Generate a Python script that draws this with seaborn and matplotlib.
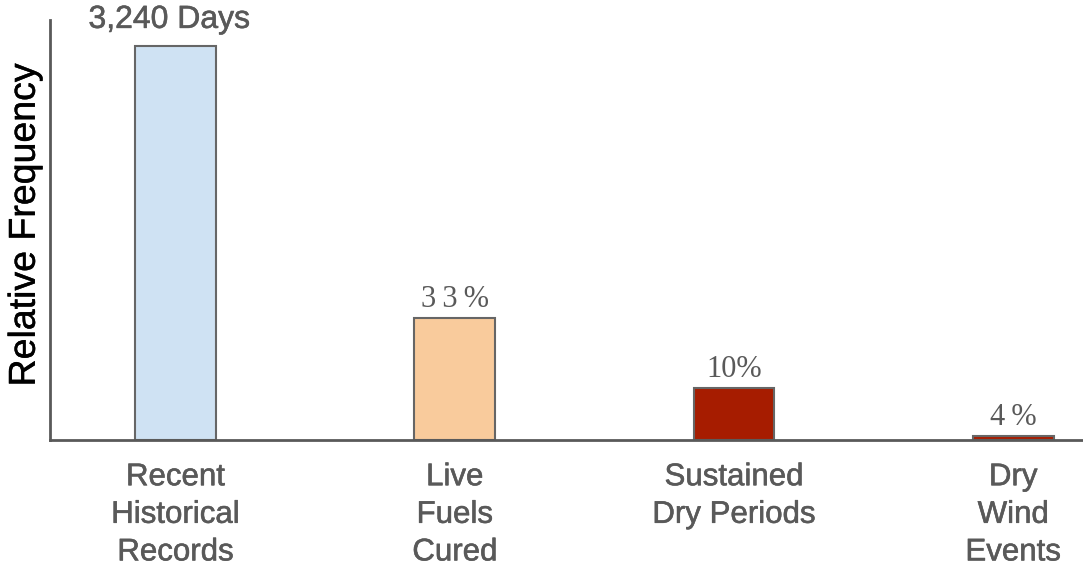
import matplotlib
matplotlib.use("Agg")
import matplotlib.pyplot as plt
import matplotlib.patheffects as pe
import seaborn as sns
import pandas as pd

categories = ["Recent\nHistorical\nRecords", "Live\nFuels\nCured", "Sustained\nDry Periods", "Dry\nWind\nEvents"]
heights = [100.0, 31.0, 13.2, 1.0]
bar_labels = ["3,240 Days", "3\u20093\u2009%", "10%", "4\u2009%"]
colors = ["#cfe2f3", "#f9cb9c", "#a61c00", "#a61c00"]

sns.set_theme(style="white")
plt.rcParams['font.family'] = ['Liberation Sans', 'DejaVu Sans']

df = pd.DataFrame({"cat": categories, "h": heights})
txt_gray = "#595959"
thick = [pe.withStroke(linewidth=0.4, foreground=txt_gray)]

fig = plt.figure(figsize=(10.83, 5.67), dpi=100)
ax = fig.add_axes([50/1083, 127/567, 1033/1083, 420/567])
sns.barplot(data=df, x="cat", y="h", hue="cat", palette=colors, legend=False,
            width=0.29, edgecolor="#666666", linewidth=1.5, saturation=1, ax=ax)

ax.set_xlim(-0.45, 3.25)
ax.set_ylim(0, 106.6)
ax.set_yticks([])
ax.set_xlabel("")
ax.set_ylabel("Relative Frequency", fontsize=27, color="black")
ax.yaxis.set_label_coords(-0.007, 0.512)
ax.yaxis.label.set_path_effects([pe.withStroke(linewidth=0.3, foreground="black")])
for s in ["top", "right"]:
    ax.spines[s].set_visible(False)
for s in ["left", "bottom"]:
    ax.spines[s].set_color(txt_gray)
    ax.spines[s].set_linewidth(2)
ax.tick_params(axis="x", length=0, pad=16, labelsize=22.5, labelcolor=txt_gray)
for t in ax.get_xticklabels():
    t.set_linespacing(1.33)
    t.set_path_effects(thick)

for i, (h, lab) in enumerate(zip(heights, bar_labels)):
    if i == 0:
        t = ax.annotate(lab, (i, h), xytext=(-4.5, 8), textcoords="offset points",
                        ha="center", va="bottom", fontsize=23, color=txt_gray)
        t.set_path_effects(thick)
    else:
        ax.annotate(lab, (i, h), xytext=(0, 3), textcoords="offset points",
                    ha="center", va="bottom", fontsize=22,
                    family=["Liberation Serif", "DejaVu Serif"], color=txt_gray)

fig.savefig("out.png", dpi=100)
